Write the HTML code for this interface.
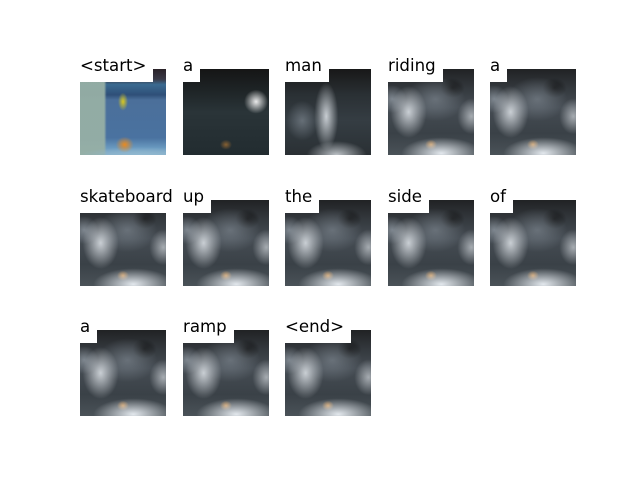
<!DOCTYPE html>
<html><head><meta charset="utf-8"><style>
body{margin:0;background:#fff;width:640px;height:480px;position:relative;overflow:hidden;font-family:"DejaVu Sans","Liberation Sans",sans-serif}
.p{position:absolute;width:86px;height:86px;overflow:hidden}
.lbl{position:absolute;font-size:16.6px;line-height:17px;background:#fff;padding:1px 7px 8px 0;color:#000;white-space:nowrap}
.att{background:
radial-gradient(ellipse 18px 26px at 24% 50%,rgba(225,230,235,.85),rgba(225,230,235,0) 100%),
radial-gradient(ellipse 40px 16px at 62% 98%,rgba(235,240,245,.95),rgba(235,240,245,0) 100%),
radial-gradient(ellipse 14px 18px at 97% 55%,rgba(200,205,210,.75),rgba(200,205,210,0) 100%),
radial-gradient(ellipse 30px 22px at 55% 35%,rgba(140,150,160,.55),rgba(140,150,160,0) 100%),
radial-gradient(ellipse 14px 14px at 5% 35%,rgba(170,180,190,.6),rgba(170,180,190,0) 100%),
radial-gradient(ellipse 6px 5px at 50% 88%,rgba(220,150,70,.85),rgba(220,150,70,0) 100%),
radial-gradient(ellipse 12px 10px at 75% 22%,rgba(10,10,10,.7),rgba(10,10,10,0) 100%),
linear-gradient(#202224 0%,#33383d 22%,#454c53 45%,#3a4147 75%,#4a5258 100%)}
</style></head><body>
<div id="grid"></div>
<script>
const words=["<start>","a","man","riding","a","skateboard","up","the","side","of","a","ramp","<end>"];
const colX=[80,183,285,388,490];
const rowY=[69,200,330];
const g=document.getElementById('grid');
words.forEach((w,i)=>{
  const x=colX[i%5],y=rowY[Math.floor(i/5)];
  const p=document.createElement('div');
  p.className='p'+(i>2?' att':'');
  p.style.left=x+'px';p.style.top=y+'px';
  if(i===0){
    p.style.background='radial-gradient(ellipse 9px 8px at 52% 88%,#e88a20,rgba(232,138,32,0) 100%),radial-gradient(ellipse 5px 9px at 50% 38%,#d8c820,rgba(216,200,32,0) 100%),radial-gradient(ellipse 60px 8px at 70% 100%,#90b8d0,rgba(144,184,208,0) 100%),linear-gradient(90deg,rgba(150,175,165,.95) 0%,rgba(150,175,165,.95) 28%,rgba(0,0,0,0) 31%),linear-gradient(#2a2228 0%,#3a3a48 12%,#3a6a90 18%,#2f4f78 30%,#4b6f9a 36%,#4a72a0 80%,#6a9ac0 92%,#8ab0c8 100%)';
  } else if(i===1){
    p.style.background='radial-gradient(ellipse 12px 12px at 85% 38%,rgba(245,245,245,.95),rgba(245,245,245,0) 100%),radial-gradient(ellipse 6px 5px at 50% 88%,rgba(200,130,50,.6),rgba(200,130,50,0) 100%),linear-gradient(#151515 0%,#1e2426 25%,#2a3438 50%,#222c30 100%)';
  } else if(i===2){
    p.style.background='radial-gradient(ellipse 12px 34px at 48% 55%,rgba(225,230,235,.85),rgba(225,230,235,0) 100%),radial-gradient(ellipse 30px 14px at 60% 100%,rgba(225,230,235,.8),rgba(225,230,235,0) 100%),radial-gradient(ellipse 16px 20px at 20% 60%,rgba(150,160,170,.5),rgba(150,160,170,0) 100%),linear-gradient(#181818 0%,#2a3034 30%,#353d43 60%,#2a3034 100%)';
  }
  
  
  g.appendChild(p);
  const l=document.createElement('div');
  l.className='lbl';
  l.textContent=w;
  l.style.left=x+'px';l.style.top=(y-13)+'px';
  
  
  g.appendChild(l);
});
</script>
</body></html>
